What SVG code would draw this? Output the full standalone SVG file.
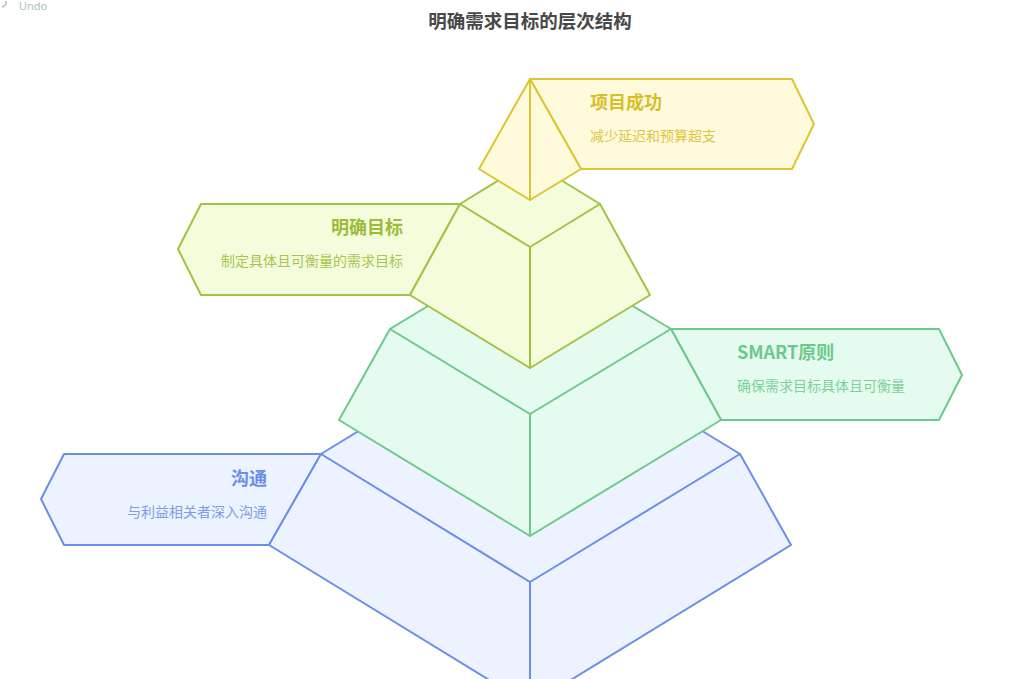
<svg xmlns="http://www.w3.org/2000/svg" width="1024" height="679" viewBox="0 0 1024 679">
<style>
text{font-family:"Noto Sans CJK SC","Noto Sans",sans-serif;}
.t{font-size:18px;font-weight:700;}
.s{font-size:14px;}
.ly polygon,.ly polyline,.ly line{stroke-width:2;stroke-linejoin:round;stroke-linecap:round;}
.blue polygon{fill:#ECF2FF;stroke:#6B8FE8;}
.blue line{stroke:#6B8FE8;}
.blue text{fill:#6B8FE8;}
.green polygon{fill:#E6FBEF;stroke:#6CC98B;}
.green line{stroke:#6CC98B;}
.green text{fill:#6CC98B;}
.lime polygon{fill:#F3FDDC;stroke:#A3C242;}
.lime line{stroke:#A3C242;}
.lime text{fill:#9DBB3A;}
.yellow polygon{fill:#FFFADB;stroke:#DCC630;}
.yellow line{stroke:#DCC630;}
.yellow text{fill:#D6BF2A;}
.sub{opacity:0.85;}
</style>
<rect width="1024" height="679" fill="#FFFFFF"/>
<g id="undo">
<path d="M6,1 A5,5 0 0 1 2,7" fill="none" stroke="#a9c2b8" stroke-width="1.5"/>
<text x="19" y="10" font-size="11" fill="#a9c2b8" style="font-family:'Noto Sans',sans-serif">Undo</text>
</g>
<text x="530" y="28" text-anchor="middle" style="font-size:18.5px;font-weight:700" fill="#484848">明确需求目标的层次结构</text>
<g id="layer-communication" class="ly blue">
<polygon points="321,454 64,454 41,499 64,545 269,545"/>
<polygon points="530,326 321,454 269,545 530,705 791,545 740,454"/>
<line x1="321" y1="454" x2="530" y2="582"/>
<line x1="740" y1="454" x2="530" y2="582"/>
<line x1="530" y1="582" x2="530" y2="705"/>
<text class="t" x="267" y="485" text-anchor="end">沟通</text>
<text class="s sub" x="267" y="517" text-anchor="end">与利益相关者深入沟通</text>
</g>
<g id="layer-smart" class="ly green">
<polygon points="671,329 939,329 962,375 939,420 721,420"/>
<polygon points="530,244 390,329 339,420 530,536 721,420 671,329"/>
<line x1="390" y1="329" x2="530" y2="414"/>
<line x1="671" y1="329" x2="530" y2="414"/>
<line x1="530" y1="414" x2="530" y2="536"/>
<text class="t" x="737" y="359">SMART原则</text>
<text class="s sub" x="737" y="391">确保需求目标具体且可衡量</text>
</g>
<g id="layer-goal" class="ly lime">
<polygon points="460,204 201,204 178,249 201,295 410,295"/>
<polygon points="530,161 460,204 410,295 530,368 650,295 600,204"/>
<line x1="460" y1="204" x2="530" y2="247"/>
<line x1="600" y1="204" x2="530" y2="247"/>
<line x1="530" y1="247" x2="530" y2="368"/>
<text class="t" x="403" y="234" text-anchor="end">明确目标</text>
<text class="s sub" x="403" y="266" text-anchor="end">制定具体且可衡量的需求目标</text>
</g>
<g id="layer-success" class="ly yellow">
<polygon points="530,79 792,79 814,124 792,169 581,169"/>
<polygon points="530,79 479,169 530,200 581,169"/>
<line x1="530" y1="79" x2="530" y2="200"/>
<text class="t" x="590" y="109">项目成功</text>
<text class="s sub" x="590" y="141">减少延迟和预算超支</text>
</g>
<g id="connectors"></g>
</svg>
